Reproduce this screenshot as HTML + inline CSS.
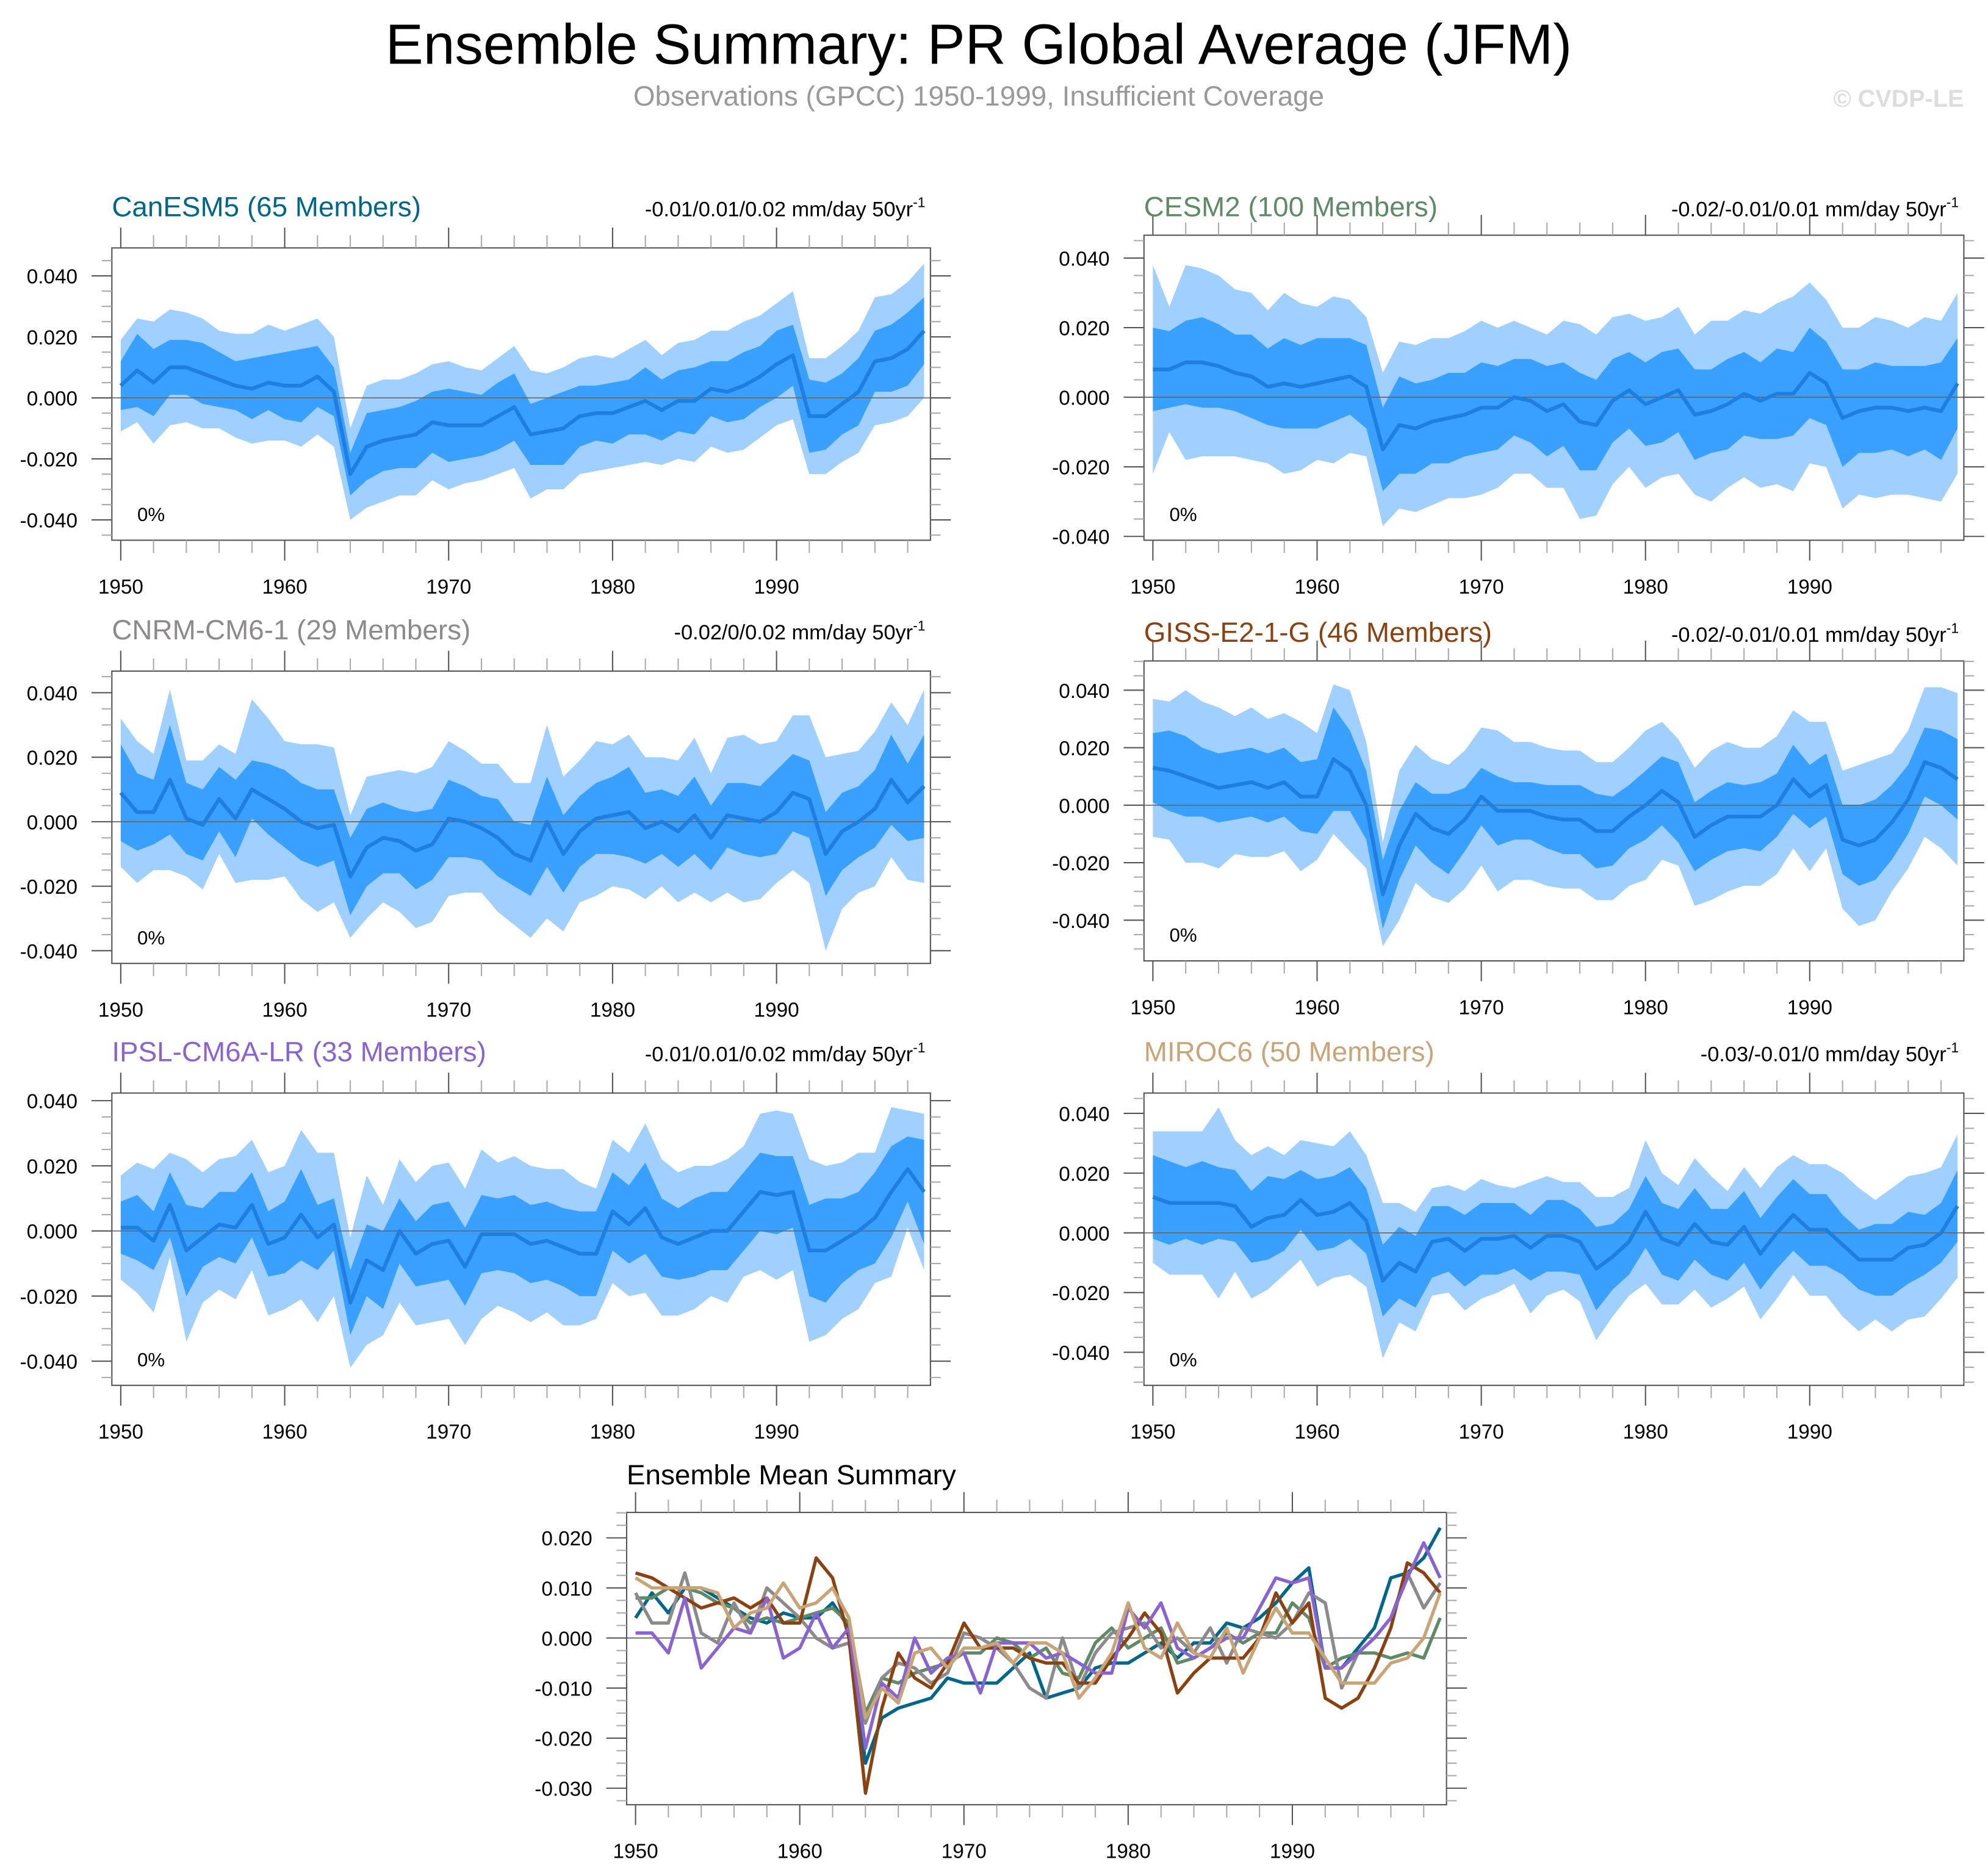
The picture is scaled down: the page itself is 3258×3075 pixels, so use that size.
<!DOCTYPE html>
<html><head><meta charset="utf-8">
<style>
html,body{margin:0;padding:0;background:#fff;}
svg{display:block;font-family:"Liberation Sans",sans-serif;}
</style></head>
<body>
<svg id="fig" width="3258" height="3075" viewBox="0 0 1564 1476" xmlns="http://www.w3.org/2000/svg">
<rect x="0" y="0" width="1564" height="1476" fill="#fff"/>
<text x="770" y="50" font-size="44.6" text-anchor="middle" fill="#000">Ensemble Summary: PR Global Average (JFM)</text>
<text x="770" y="83" font-size="22" text-anchor="middle" fill="#999">Observations (GPCC) 1950-1999, Insufficient Coverage</text>
<text x="1545" y="84" font-size="19" font-weight="bold" text-anchor="end" fill="#ddd">© CVDP-LE</text>
<g id="plots"></g>
</svg>
<script>
const years = [];
for (let y = 1950; y <= 1999; y++) years.push(y);
const xTickLabels = ["1950","1960","1970","1980","1990"];
const yTickLabels = ["-0.040","-0.020","0.000","0.020","0.040"];
const yTickValues = [-0.04,-0.02,0,0.02,0.04];
const sumTickLabels = ["-0.030","-0.020","-0.010","0.000","0.010","0.020"];
const sumTickValues = [-0.03,-0.02,-0.01,0,0.01,0.02];

const modelNames = ["CanESM5 (65 Members)","CESM2 (100 Members)","CNRM-CM6-1 (29 Members)","GISS-E2-1-G (46 Members)","IPSL-CM6A-LR (33 Members)","MIROC6 (50 Members)"];
const trendLabels = ["-0.01/0.01/0.02 mm/day 50yr","-0.02/-0.01/0.01 mm/day 50yr","-0.02/0/0.02 mm/day 50yr","-0.02/-0.01/0.01 mm/day 50yr","-0.01/0.01/0.02 mm/day 50yr","-0.03/-0.01/0 mm/day 50yr"];

// ensemble means (units of 0.001 mm/day)
const meanCanESM5 = [4,9,5,10,10,8,6,4,3,5, 4,4,7,2,-25,-16,-14,-13,-12,-8, -9,-9,-9,-6,-3,-12,-11,-10,-6,-5, -5,-3,-1,-4,-1,-1,3,2,4,7, 11,14,-6,-6,-2,2,12,13,16,22];
const meanCESM2 = [8,8,10,10,9,7,6,3,4,3, 4,5,6,3,-15,-8,-9,-7,-6,-5, -3,-3,0,-1,-4,-2,-7,-8,-1,2, -2,0,2,-5,-4,-2,1,-1,1,1, 7,4,-6,-4,-3,-3,-4,-3,-4,4];
const meanCNRM = [9,3,3,13,1,-1,7,1,10,7, 4,0,-2,-1,-17,-8,-5,-6,-9,-7, 1,0,-2,-5,-10,-12,0,-10,-3,1, 2,3,-2,0,-3,2,-5,2,1,0, 3,9,7,-10,-3,0,4,13,6,11];
const meanGISS = [13,12,10,8,6,7,8,6,8,3, 3,16,12,0,-31,-14,-3,-8,-10,-5, 3,-2,-2,-2,-4,-5,-5,-9,-9,-4, 0,5,1,-11,-7,-4,-4,-4,0,9, 3,7,-12,-14,-12,-6,2,15,13,9];
const meanIPSL = [1,1,-3,8,-6,-2,2,1,8,-4, -2,5,-2,2,-22,-9,-12,0,-7,-4, -3,-11,-1,-1,-1,-4,-3,-5,-7,-7, 6,2,7,-2,-4,-2,0,0,6,12, 11,12,-6,-6,-3,0,4,12,19,12];
const meanMIROC = [12,10,10,10,10,9,2,5,6,11, 6,7,10,4,-16,-10,-13,-3,-2,-6, -2,-2,-1,-5,-1,-1,-3,-12,-8,-3, 7,-2,-4,3,-3,-4,2,-7,0,6, 1,1,-4,-9,-9,-9,-5,-4,0,9];

// half-widths of inner and outer spread bands (units of 0.001)
const innerCanESM5 = [8,12,11,9,9,10,9,8,10,9, 11,12,10,8,7,11,10,10,11,10, 12,11,10,11,11,10,11,12,10,9, 10,9,11,10,10,11,9,10,11,10, 11,10,12,11,10,11,10,11,12,11];
const outerCanESM5 = [15,17,20,19,18,18,16,17,18,19, 18,20,19,18,15,20,20,19,20,19, 21,19,18,19,20,21,19,20,19,19, 18,19,20,18,19,20,19,20,21,20, 20,21,19,19,19,20,21,21,22,22];
const innerCESM2 = [12,11,12,13,12,11,12,11,13,12, 13,12,11,12,12,14,13,12,13,12, 13,12,11,12,13,12,14,13,12,11, 12,13,12,13,12,13,12,11,13,12, 13,12,14,12,13,12,13,12,14,13];
const outerCESM2 = [30,18,28,27,26,24,24,22,26,24, 22,24,22,20,22,24,24,24,23,24, 25,23,22,21,22,24,28,26,24,22, 24,23,24,23,26,24,24,25,26,28, 26,24,26,24,26,25,24,26,26,26];
const innerCNRM = [15,12,10,17,11,11,10,12,9,11, 12,12,12,11,12,12,11,10,12,11, 12,11,10,12,10,11,14,12,11,11, 12,14,11,10,11,12,10,10,11,11, 13,12,12,13,12,11,12,14,12,16];
const outerCNRM = [23,22,18,28,18,20,17,20,28,25, 21,24,26,24,19,22,20,22,24,24, 24,22,20,23,22,24,30,24,22,24, 22,24,22,20,22,24,20,24,26,24, 22,24,26,30,24,22,24,24,24,30];
const innerGISS = [12,14,14,12,12,12,12,12,12,12, 13,18,14,12,12,12,11,12,14,11, 10,12,10,10,11,12,12,13,12,11, 12,12,14,12,12,12,11,12,11,12, 11,11,12,14,14,13,12,12,13,14];
const outerGISS = [24,24,30,28,28,24,26,24,24,26, 22,26,28,22,18,26,24,24,24,24, 24,28,24,24,24,24,24,24,24,24, 26,24,22,24,26,26,24,24,24,24, 26,22,24,28,28,24,24,26,28,30];
const innerIPSL = [8,10,9,10,14,9,10,11,10,10, 11,14,10,8,10,11,12,10,10,12, 12,12,12,11,12,12,12,12,13,13, 12,12,14,12,11,12,12,12,12,12, 12,11,14,16,13,12,14,14,10,16];
const outerIPSL = [16,20,22,16,28,20,20,22,20,22, 22,26,26,22,20,26,20,22,22,24, 24,24,26,22,24,24,22,24,22,20, 22,22,26,24,22,22,20,22,20,24, 26,24,28,26,24,24,20,26,18,24];
const innerMIROC = [14,14,12,14,12,12,12,14,12,10, 12,12,12,11,12,12,12,12,11,12, 12,12,11,11,12,12,11,14,11,11, 12,12,12,12,11,12,12,12,12,12, 12,12,10,10,12,12,12,10,10,12];
const outerMIROC = [22,24,24,24,32,22,24,24,20,20, 24,22,24,22,26,20,20,18,18,20, 20,18,16,22,20,18,20,24,20,18, 24,22,20,22,22,18,20,22,22,20, 22,22,24,24,20,24,24,24,22,24];

const meanSeries = [meanCanESM5, meanCESM2, meanCNRM, meanGISS, meanIPSL, meanMIROC];
const innerSeries = [innerCanESM5, innerCESM2, innerCNRM, innerGISS, innerIPSL, innerMIROC];
const outerSeries = [outerCanESM5, outerCESM2, outerCNRM, outerGISS, outerIPSL, outerMIROC];

const modelColors = ["#00678a","#5f8a67","#8c8a8a","#8b4210","#8a63d2","#c8a477"];
const slugs = ["canesm5","cesm2","cnrm-cm6-1","giss-e2-1-g","ipsl-cm6a-lr","miroc6"];

const layouts = [
  {l:88,r:732,t:195,b:425,y40:217,yn40:409},
  {l:900,r:1545,t:185,b:425,y40:203,yn40:422},
  {l:88,r:732,t:528,b:758,y40:545,yn40:748},
  {l:900,r:1545,t:520,b:756,y40:543,yn40:724},
  {l:88,r:732,t:860,b:1090,y40:866,yn40:1071},
  {l:900,r:1545,t:860,b:1090,y40:876,yn40:1064}
];
const NS = "http://www.w3.org/2000/svg";
const root = document.getElementById("plots");
function mk(tag, attrs, parent) {
  const e = document.createElementNS(NS, tag);
  for (const k in attrs) e.setAttribute(k, attrs[k]);
  (parent || root).appendChild(e);
  return e;
}
function drawAxes(g, L, xs, ys, tickVals, tickLabs, minorStep, yLo, yHi, slug) {
  const frame = mk("rect", {x:L.l, y:L.t, width:L.r-L.l, height:L.b-L.t, fill:"none", stroke:"#555", "stroke-width":1}, g);
  
  
  for (let yr = 1950; yr <= 1999; yr += 2) {
    const major = yr % 10 === 0;
    const x = xs(yr), len = major ? 16 : 10;
    mk("line", {x1:x, x2:x, y1:L.b, y2:L.b+len, stroke:major?"#555":"#aaa", "stroke-width":1}, g);
    mk("line", {x1:x, x2:x, y1:L.t, y2:L.t-len, stroke:major?"#555":"#aaa", "stroke-width":1}, g);
  }
  xTickLabels.forEach(lab => {
    const t = mk("text", {x:xs(+lab), y:L.b+42, "font-size":16, "text-anchor":"middle"}, g);
    t.textContent = lab;
    
    
  });
  for (let v = yLo; v <= yHi + 1e-9; v += minorStep) {
    const y = ys(v);
    if (y < L.t - 0.5 || y > L.b + 0.5) continue;
    const isMaj = tickVals.some(tv => Math.abs(tv - v) < 1e-9);
    const len = isMaj ? 16 : 8;
    mk("line", {x1:L.l, x2:L.l-len, y1:y, y2:y, stroke:isMaj?"#555":"#aaa", "stroke-width":1}, g);
    mk("line", {x1:L.r, x2:L.r+len, y1:y, y2:y, stroke:isMaj?"#555":"#aaa", "stroke-width":1}, g);
  }
  tickVals.forEach((v, i) => {
    const t = mk("text", {x:L.l-27, y:ys(v)+6, "font-size":16, "text-anchor":"end"}, g);
    t.textContent = tickLabs[i];
    
    
  });
}
function bandPath(xs, ys, lo, hi) {
  let d = "";
  years.forEach((yr, i) => { d += (i ? "L" : "M") + xs(yr).toFixed(1) + "," + ys(hi[i]).toFixed(1); });
  for (let i = years.length - 1; i >= 0; i--) d += "L" + xs(years[i]).toFixed(1) + "," + ys(lo[i]).toFixed(1);
  return d + "Z";
}
function linePath(xs, ys, v) {
  return years.map((yr, i) => (i ? "L" : "M") + xs(yr).toFixed(1) + "," + ys(v[i]).toFixed(1)).join("");
}
layouts.forEach((L, p) => {
  const g = mk("g", {});
  
  
  const x0 = L.l + 7, dx = (L.r - L.l - 12) / 49;
  const xs = yr => x0 + (yr - 1950) * dx;
  const ys = v => L.y40 + (0.04 - v) / 0.08 * (L.yn40 - L.y40);
  const m = meanSeries[p].map(v => v / 1000);
  const inn = innerSeries[p], out = outerSeries[p];
  const oLo = m.map((v, i) => v - out[i] / 1000), oHi = m.map((v, i) => v + out[i] / 1000);
  const iLo = m.map((v, i) => v - inn[i] / 1000), iHi = m.map((v, i) => v + inn[i] / 1000);
  const ob = mk("path", {d:bandPath(xs, ys, oLo, oHi), fill:"#a0d0ff"}, g);
  
  
  const ib = mk("path", {d:bandPath(xs, ys, iLo, iHi), fill:"#39a0ff"}, g);
  
  
  const zl = mk("line", {x1:L.l, x2:L.r, y1:ys(0), y2:ys(0), stroke:"#666", "stroke-width":0.8}, g);
  
  
  const ml = mk("path", {d:linePath(xs, ys, m), fill:"none", stroke:"#1f7fe0", "stroke-width":3, "stroke-linejoin":"round"}, g);
  
  
  drawAxes(g, L, xs, ys, yTickValues, yTickLabels, 0.005, -0.06, 0.06, slugs[p]);
  const tt = mk("text", {x:L.l, y:L.t - (p===1||p===3?15:25), "font-size":22, fill:modelColors[p]}, g);
  tt.textContent = modelNames[p];
  
  
  const tr = mk("text", {x:L.r - 4, y:L.t - (p===1||p===3?15:25), "font-size":16.5, "text-anchor":"end"}, g);
  tr.textContent = trendLabels[p];
  const sup = mk("tspan", {"font-size":11, dy:-7}, tr);
  sup.textContent = "-1";
  
  
  const pc = mk("text", {x:L.l + 20, y:L.b - 15, "font-size":15}, g);
  pc.textContent = "0%";
  
  
});
(function(){
  const L = {l:493, r:1138, t:1190, b:1420};
  const g = mk("g", {});
  
  
  const x0 = L.l + 7, dx = (L.r - L.l - 12) / 49;
  const xs = yr => x0 + (yr - 1950) * dx;
  const ys = v => 1210 + (0.02 - v) / 0.05 * (1407 - 1210);
  const zl = mk("line", {x1:L.l, x2:L.r, y1:ys(0), y2:ys(0), stroke:"#666", "stroke-width":0.8}, g);
  
  
  meanSeries.forEach((s, p) => {
    const pl = mk("path", {d:linePath(xs, ys, s.map(v => v / 1000)), fill:"none", stroke:modelColors[p], "stroke-width":2.6, "stroke-linejoin":"round"}, g);
    
    
  });
  drawAxes(g, L, xs, ys, sumTickValues, sumTickLabels, 0.0025, -0.035, 0.03, 'summary');
  const t = mk("text", {x:L.l, y:L.t - 22, "font-size":22}, g);
  t.textContent = "Ensemble Mean Summary";
  
  
})();
</script>
</body></html>
